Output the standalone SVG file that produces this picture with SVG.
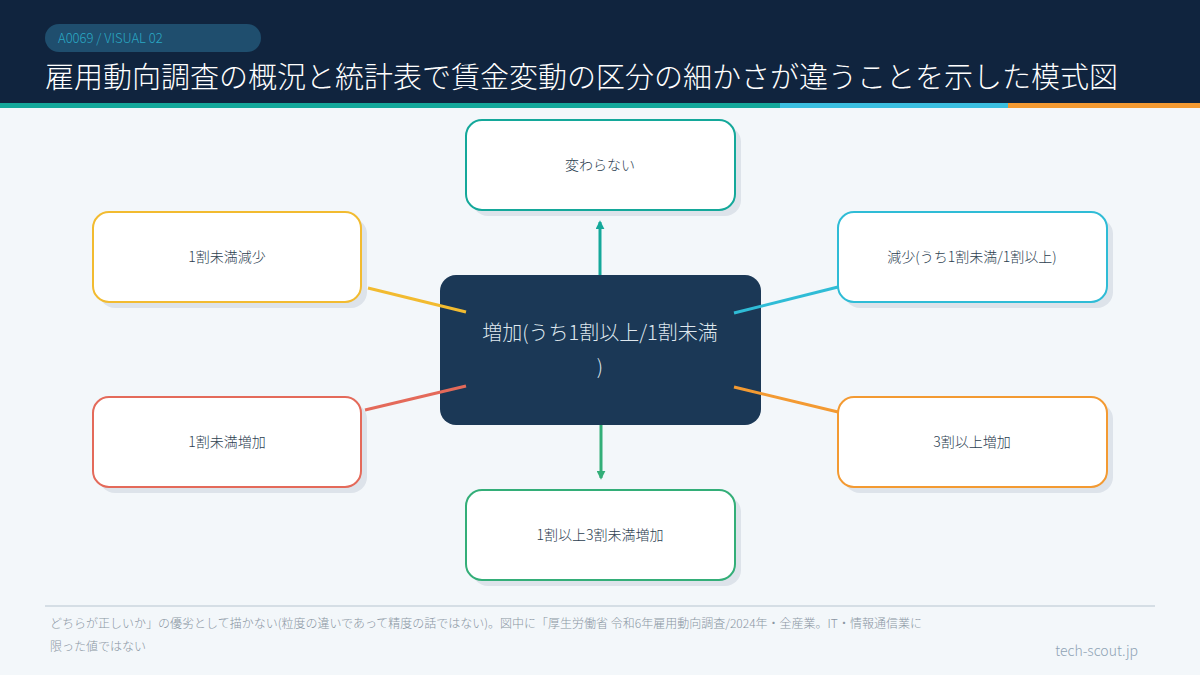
<svg xmlns="http://www.w3.org/2000/svg" width="1200" height="675" viewBox="0 0 1200 675">
<style>
text{font-family:"Noto Sans CJK JP","Noto Sans",sans-serif;font-weight:300}
.box{fill:#fff;stroke-width:2}
.sh{fill:#dde3ea}
.lbl{font-size:14px;fill:#2c3e50;text-anchor:middle}
.ft{font-size:12px;fill:#8a96a3}
</style>
<defs>
<marker id="ah" viewBox="0 0 10 10" refX="8" refY="5" markerWidth="3" markerHeight="3" orient="auto"><path d="M0,0L10,5L0,10z" fill="context-stroke"/></marker>
<marker id="at" viewBox="0 0 10 10" refX="8" refY="5" markerWidth="3" markerHeight="3" orient="auto"><path d="M0,0L10,5L0,10z" fill="#14a89a"/></marker>
<marker id="ag" viewBox="0 0 10 10" refX="8" refY="5" markerWidth="3" markerHeight="3" orient="auto"><path d="M0,0L10,5L0,10z" fill="#33ae78"/></marker>
</defs>
<rect width="1200" height="675" fill="#f3f7fa"/>
<rect width="1200" height="103" fill="#10243e"/>
<rect y="103" width="780" height="5" fill="#14a89a"/>
<rect x="780" y="103" width="228" height="5" fill="#3bbfe0"/>
<rect x="1008" y="103" width="192" height="5" fill="#f39a32"/>
<rect x="45" y="24" width="216" height="28" rx="14" fill="#1f4e6e"/>
<text x="58" y="43" font-size="13" fill="#2aa8c4">A0069 / VISUAL 02</text>
<text x="45" y="88" font-size="29" fill="#ffffff">雇用動向調査の概況と統計表で賃金変動の区分の細かさが違うことを示した模式図</text>

<g id="n-top"><rect class="sh" x="472" y="126" width="269" height="90" rx="16"/><rect class="box" x="466" y="120" width="269" height="90" rx="16" stroke="#14a89a"/><text class="lbl" x="600" y="170">変わらない</text></g>
<g id="n-lt"><rect class="sh" x="99" y="218" width="268" height="90" rx="16"/><rect class="box" x="93" y="212" width="268" height="90" rx="16" stroke="#f2bb30"/><text class="lbl" x="227" y="262">1割未満減少</text></g>
<g id="n-rt"><rect class="sh" x="844" y="218" width="269" height="90" rx="16"/><rect class="box" x="838" y="212" width="269" height="90" rx="16" stroke="#2fbcd6"/><text class="lbl" x="972" y="262">減少(うち1割未満/1割以上)</text></g>
<g id="n-lb"><rect class="sh" x="99" y="403" width="268" height="90" rx="16"/><rect class="box" x="93" y="397" width="268" height="90" rx="16" stroke="#e46a5a"/><text class="lbl" x="227" y="447">1割未満増加</text></g>
<g id="n-rb"><rect class="sh" x="844" y="403" width="269" height="90" rx="16"/><rect class="box" x="838" y="397" width="269" height="90" rx="16" stroke="#f39a32"/><text class="lbl" x="972" y="447">3割以上増加</text></g>
<g id="n-bot"><rect class="sh" x="472" y="496" width="269" height="90" rx="16"/><rect class="box" x="466" y="490" width="269" height="90" rx="16" stroke="#33ae78"/><text class="lbl" x="600" y="540">1割以上3割未満増加</text></g>
<g id="n-center"><rect x="440" y="275" width="321" height="150" rx="16" fill="#1b3856"/><text x="600" y="340" font-size="20" fill="#dfe7ee" text-anchor="middle">増加(うち1割以上/1割未満</text><text x="600" y="374" font-size="20" fill="#dfe7ee" text-anchor="middle">)</text></g>

<g id="connectors" stroke-width="3" fill="none">
<line x1="600" y1="275" x2="600" y2="222" stroke="#14a89a" marker-end="url(#at)"/>
<line x1="601" y1="425" x2="601" y2="478" stroke="#33ae78" marker-end="url(#ag)"/>
<line x1="466" y1="312" x2="368" y2="288" stroke="#f2bb30"/>
<line x1="734" y1="313" x2="838" y2="287" stroke="#2fbcd6"/>
<line x1="466" y1="386" x2="365" y2="410" stroke="#e46a5a"/>
<line x1="734" y1="387" x2="838" y2="412" stroke="#f39a32"/>
</g>

<rect x="45" y="605" width="1110" height="2" fill="#d5dee5"/>
<text class="ft" x="50" y="628">どちらが正しいか」の優劣として描かない(粒度の違いであって精度の話ではない)。図中に「厚生労働省 令和6年雇用動向調査/2024年・全産業。IT・情報通信業に</text>
<text class="ft" x="50" y="651">限った値ではない</text>
<text x="1138" y="656" font-size="14" fill="#8fa3b5" text-anchor="end">tech-scout.jp</text>
</svg>
